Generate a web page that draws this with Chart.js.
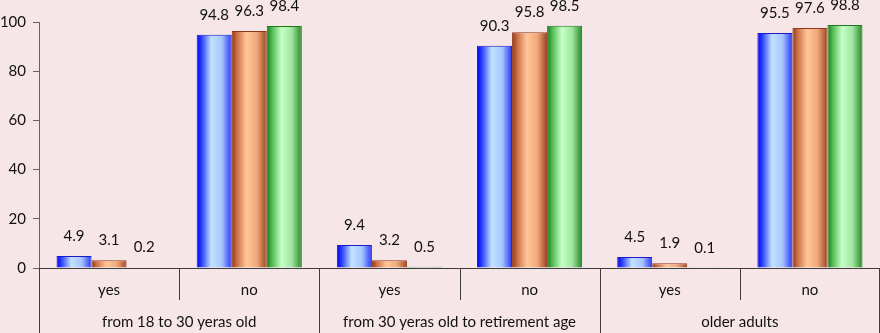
<!DOCTYPE html>
<html>
<head>
<meta charset="utf-8">
<script src="https://cdn.jsdelivr.net/npm/chart.js@4/dist/chart.umd.min.js"></script>
<style>
  html, body { margin: 0; padding: 0; background: #F6E6E8; }
  #wrap { width: 880px; height: 333px; position: relative; }
</style>
</head>
<body>
<div id="wrap"><canvas id="chart"></canvas></div>
<script>
const answers = ['yes', 'no', 'yes', 'no', 'yes', 'no']
const groups = ['from 18 to 30 yeras old', 'from 30 yeras old to retirement age', 'older adults']
const series1 = [4.9, 94.8, 9.4, 90.3, 4.5, 95.5]
const series2 = [3.1, 96.3, 3.2, 95.8, 1.9, 97.6]
const series3 = [0.2, 98.4, 0.5, 98.5, 0.1, 98.8]
const yTicks = [0, 20, 40, 60, 80, 100]

const font = 'Lato'
const catPct = 0.75

// cylinder like gradients, one colour set per series
const shades = [
  { edge: '#1A1ACC', stops: ['#0000F0', '#2A40FF', '#C4E2FF', '#A4C6FF', '#2A36F2'] },
  { edge: '#93381A', stops: ['#8E3212', '#C86E42', '#FFC699', '#F0A878', '#9C4420'] },
  { edge: '#1B7A1B', stops: ['#167816', '#4EB84E', '#C6FFC6', '#9EE49E', '#238723'] }
]

const barFill = (idx) => (c) => {
  const x = c.chart.scales.x
  const s = shades[idx]
  if (!x || c.dataIndex == null) return s.stops[2]
  const catW = x.width / answers.length
  const barW = catW * catPct / 3
  const left = x.getPixelForValue(c.dataIndex) - catW * catPct / 2 + idx * barW
  if (!isFinite(left) || !isFinite(barW) || barW <= 0) return s.stops[2]
  const g = c.chart.ctx.createLinearGradient(left, 0, left + barW, 0)
  g.addColorStop(0, s.stops[0])
  g.addColorStop(0.14, s.stops[1])
  g.addColorStop(0.42, s.stops[2])
  g.addColorStop(0.72, s.stops[3])
  g.addColorStop(1, s.stops[4])
  return g
}

const valueLabels = {
  id: 'valueLabels',
  afterDatasetsDraw(chart) {
    const ctx = chart.ctx
    ctx.save()
    ctx.font = '15px ' + font
    ctx.fillStyle = '#111'
    ctx.textAlign = 'center'
    ctx.textBaseline = 'middle'
    chart.data.datasets.forEach((ds, i) => {
      chart.getDatasetMeta(i).data.forEach((bar, j) => {
        ctx.fillText(ds.data[j].toFixed(1), bar.x, bar.y - 20)
      })
    })
    ctx.restore()
  }
}

const groupAxis = {
  id: 'groupAxis',
  afterDraw(chart) {
    const ctx = chart.ctx
    const x = chart.scales.x
    const top = chart.chartArea.bottom
    const bottom = chart.height
    const edge = (i) => (x.getPixelForValue(i) + x.getPixelForValue(i + 1)) / 2
    ctx.save()
    ctx.strokeStyle = '#3c3c3c'
    ctx.lineWidth = 1
    // axis line
    ctx.beginPath()
    ctx.moveTo(x.left, top + 0.5)
    ctx.lineTo(x.right, top + 0.5)
    ctx.stroke()
    // separators
    for (let i = 0; i <= answers.length; i++) {
      let px
      if (i === 0) px = x.left
      else if (i === answers.length) px = x.right - 1
      else px = edge(i - 1)
      px = Math.round(px) + 0.5
      ctx.beginPath()
      ctx.moveTo(px, top)
      ctx.lineTo(px, i % 2 === 0 ? bottom : top + 32)
      ctx.stroke()
    }
    ctx.font = '15px ' + font
    ctx.fillStyle = '#111'
    ctx.textAlign = 'center'
    ctx.textBaseline = 'middle'
    groups.forEach((g, k) => {
      const cx = (x.getPixelForValue(k * 2) + x.getPixelForValue(k * 2 + 1)) / 2
      ctx.fillText(g, cx, 322)
    })
    ctx.restore()
  }
}

new Chart(document.getElementById('chart'), {
  type: 'bar',
  data: {
    labels: answers,
    datasets: [series1, series2, series3].map((d, i) => ({
      label: 'series ' + (i + 1),
      data: d,
      backgroundColor: barFill(i),
      borderColor: shades[i].edge,
      borderWidth: 1
    }))
  },
  options: {
    responsive: true,
    maintainAspectRatio: false,
    animation: false,
    layout: { padding: { top: 22, right: 0, left: 0, bottom: 0 } },
    datasets: { bar: { categoryPercentage: catPct, barPercentage: 1 } },
    plugins: { legend: { display: false }, tooltip: { enabled: false } },
    scales: {
      x: {
        grid: { display: false, drawTicks: false },
        border: { display: false },
        ticks: { padding: 13, color: '#111', font: { family: font, size: 15 } },
        afterFit: (s) => { s.height = 65 }
      },
      y: {
        min: 0,
        max: 100,
        afterBuildTicks: (s) => { s.ticks = yTicks.map(v => ({ value: v })) },
        grid: { drawOnChartArea: false, tickLength: 6, color: '#6e6060' },
        border: { display: true, color: '#6e6060' },
        ticks: { padding: 7, color: '#111', font: { family: font, size: 15 } },
        afterFit: (s) => { s.width = 39 }
      }
    }
  },
  plugins: [valueLabels, groupAxis]
})
</script>
</body>
</html>
